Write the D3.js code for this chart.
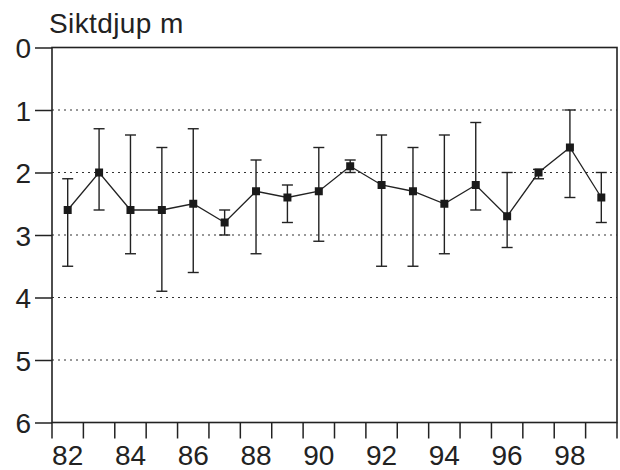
<!DOCTYPE html>
<html>
<head>
<meta charset="utf-8">
<script src="https://cdn.jsdelivr.net/npm/d3@7"></script>
<style>
  html, body { margin: 0; padding: 0; background: #fff; }
  svg { display: block; font-family: "Liberation Sans", Arial, Helvetica, sans-serif; }
</style>
</head>
<body>
<svg id="chart" width="620" height="470"></svg>
<script>
// Secchi depth (m) per year, with observed min/max range
const years   = [82, 83, 84, 85, 86, 87, 88, 89, 90, 91, 92, 93, 94, 95, 96, 97, 98, 99];
const depth   = [2.6, 2.0, 2.6, 2.6, 2.5, 2.8, 2.3, 2.4, 2.3, 1.9, 2.2, 2.3, 2.5, 2.2, 2.7, 2.0, 1.6, 2.4];
const depthLo = [2.1, 1.3, 1.4, 1.6, 1.3, 2.6, 1.8, 2.2, 1.6, 1.8, 1.4, 1.6, 1.4, 1.2, 2.0, 1.95, 1.0, 2.0];
const depthHi = [3.5, 2.6, 3.3, 3.9, 3.6, 3.0, 3.3, 2.8, 3.1, 2.0, 3.5, 3.5, 3.3, 2.6, 3.2, 2.1, 2.4, 2.8];
const yTicks  = [0, 1, 2, 3, 4, 5, 6];
const xLabels = [82, 84, 86, 88, 90, 92, 94, 96, 98];
const title   = "Siktdjup m";

const data = years.map((yr, i) => ({ yr, v: depth[i], lo: depthLo[i], hi: depthHi[i] }));

const svg = d3.select("#chart");
const plotL = 52, plotR = 617, plotT = 47.5, plotB = 422.5;

const x = d3.scaleBand().domain(years).range([plotL, plotR]).padding(0);
const y = d3.scaleLinear().domain([0, 6]).range([plotT, plotB]);
const cx = d => x(d) + x.bandwidth() / 2;

// dotted gridlines at interior depths
svg.append("g")
  .selectAll("line")
  .data(yTicks.filter(t => t > 0 && t < 6))
  .join("line")
  .attr("x1", plotL).attr("x2", plotR)
  .attr("y1", d => y(d)).attr("y2", d => y(d))
  .attr("stroke", "#333")
  .attr("stroke-width", 1.2)
  .attr("stroke-dasharray", "2,4");

// y axis (left), ticks pointing outward
const yAxis = d3.axisLeft(y).tickValues(yTicks).tickSize(17).tickPadding(4).tickFormat(d3.format("d"));
const gy = svg.append("g").attr("transform", `translate(${plotL},0)`).call(yAxis);
gy.select(".domain").remove();
gy.selectAll(".tick line").attr("stroke", "#222").attr("stroke-width", 1.5);
gy.selectAll(".tick text")
  .attr("fill", "#222").attr("font-size", 28)
  .attr("font-family", "Liberation Sans, Arial, sans-serif")
  .attr("x", -21).attr("dy", "0.36em");

// x axis: tick marks at year boundaries, labels at even years
const bounds = years.map(yr => x(yr)).concat([plotR]);
svg.append("g")
  .selectAll("line")
  .data(bounds)
  .join("line")
  .attr("x1", d => d).attr("x2", d => d)
  .attr("y1", plotB).attr("y2", plotB + 16)
  .attr("stroke", "#222").attr("stroke-width", 1.5);

svg.append("g")
  .selectAll("text")
  .data(xLabels)
  .join("text")
  .attr("x", d => cx(d))
  .attr("y", 465)
  .attr("text-anchor", "middle")
  .attr("font-size", 28)
  .attr("fill", "#222")
  .text(d => d);

// plot frame
svg.append("rect")
  .attr("x", plotL).attr("y", plotT)
  .attr("width", plotR - plotL).attr("height", plotB - plotT)
  .attr("fill", "none").attr("stroke", "#222").attr("stroke-width", 1.6);

// error bars (min–max range)
const eb = svg.append("g").attr("stroke", "#222").attr("stroke-width", 1.4);
eb.selectAll("line.v").data(data).join("line").attr("class", "v")
  .attr("x1", d => cx(d.yr)).attr("x2", d => cx(d.yr))
  .attr("y1", d => y(d.lo)).attr("y2", d => y(d.hi));
eb.selectAll("line.lo").data(data).join("line").attr("class", "lo")
  .attr("x1", d => cx(d.yr) - 5.5).attr("x2", d => cx(d.yr) + 5.5)
  .attr("y1", d => y(d.lo)).attr("y2", d => y(d.lo));
eb.selectAll("line.hi").data(data).join("line").attr("class", "hi")
  .attr("x1", d => cx(d.yr) - 5.5).attr("x2", d => cx(d.yr) + 5.5)
  .attr("y1", d => y(d.hi)).attr("y2", d => y(d.hi));

// connecting line through yearly values
svg.append("path")
  .datum(data)
  .attr("fill", "none")
  .attr("stroke", "#222")
  .attr("stroke-width", 1.3)
  .attr("d", d3.line().x(d => cx(d.yr)).y(d => y(d.v)));

// square markers
svg.append("g")
  .selectAll("rect")
  .data(data)
  .join("rect")
  .attr("x", d => cx(d.yr) - 4)
  .attr("y", d => y(d.v) - 4)
  .attr("width", 8).attr("height", 8)
  .attr("fill", "#1a1a1a");

// title
svg.append("text")
  .attr("x", 49).attr("y", 33)
  .attr("font-size", 28)
  .attr("fill", "#222")
  .attr("letter-spacing", 0.4)
  .text(title);
</script>
</body>
</html>
